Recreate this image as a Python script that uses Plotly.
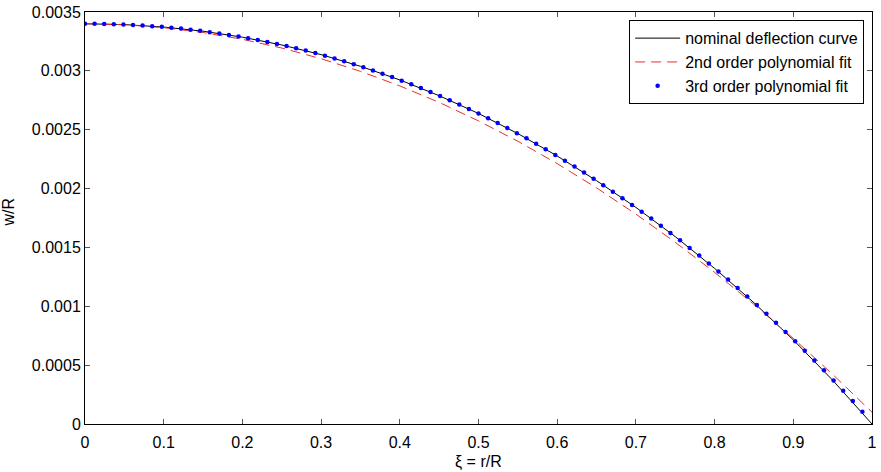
import plotly.graph_objects as go

# nominal deflection curve
xi_nom = [0.00, 0.05, 0.10, 0.15, 0.20, 0.25, 0.30, 0.35, 0.40, 0.45, 0.50,
          0.55, 0.60, 0.65, 0.70, 0.75, 0.80, 0.85, 0.90, 0.95, 1.00]
w_nom = [0.003400, 0.003393, 0.003372, 0.003337, 0.003286, 0.003220, 0.003138,
         0.003039, 0.002923, 0.002789, 0.002638, 0.002467, 0.002277, 0.002067,
         0.001840, 0.001592, 0.001322, 0.001030, 0.000715, 0.000372, 0.000000]

# 2nd order polynomial fit
xi_fit2 = xi_nom
w_fit2 = [0.003400, 0.003392, 0.003367, 0.003326, 0.003268, 0.003194, 0.003103,
          0.002996, 0.002872, 0.002732, 0.002575, 0.002402, 0.002212, 0.002006,
          0.001783, 0.001544, 0.001288, 0.001016, 0.000727, 0.000422, 0.000100]

# 3rd order polynomial fit (dots)
xi_fit3 = [0.0000, 0.0122, 0.0244, 0.0366, 0.0488, 0.0610, 0.0732, 0.0854, 0.0976, 0.1098,
           0.1220, 0.1341, 0.1463, 0.1585, 0.1707, 0.1829, 0.1951, 0.2073, 0.2195, 0.2317,
           0.2439, 0.2561, 0.2683, 0.2805, 0.2927, 0.3049, 0.3171, 0.3293, 0.3415, 0.3537,
           0.3659, 0.3780, 0.3902, 0.4024, 0.4146, 0.4268, 0.4390, 0.4512, 0.4634, 0.4756,
           0.4878, 0.5000, 0.5122, 0.5244, 0.5366, 0.5488, 0.5610, 0.5732, 0.5854, 0.5976,
           0.6098, 0.6220, 0.6341, 0.6463, 0.6585, 0.6707, 0.6829, 0.6951, 0.7073, 0.7195,
           0.7317, 0.7439, 0.7561, 0.7683, 0.7805, 0.7927, 0.8049, 0.8171, 0.8293, 0.8415,
           0.8537, 0.8659, 0.8780, 0.8902, 0.9024, 0.9146, 0.9268, 0.9390, 0.9512, 0.9634,
           0.9756, 0.9878]
w_fit3 = [0.003400, 0.003400, 0.003398, 0.003396, 0.003394, 0.003390, 0.003385, 0.003380, 0.003374, 0.003367,
          0.003359, 0.003350, 0.003340, 0.003329, 0.003318, 0.003305, 0.003292, 0.003278, 0.003262, 0.003246,
          0.003229, 0.003211, 0.003192, 0.003172, 0.003151, 0.003129, 0.003106, 0.003082, 0.003057, 0.003031,
          0.003004, 0.002976, 0.002947, 0.002917, 0.002886, 0.002854, 0.002820, 0.002786, 0.002750, 0.002714,
          0.002676, 0.002638, 0.002598, 0.002557, 0.002514, 0.002471, 0.002427, 0.002381, 0.002334, 0.002286,
          0.002237, 0.002187, 0.002136, 0.002083, 0.002029, 0.001974, 0.001918, 0.001860, 0.001803, 0.001745,
          0.001684, 0.001623, 0.001560, 0.001496, 0.001431, 0.001364, 0.001296, 0.001227, 0.001156, 0.001084,
          0.001011, 0.000936, 0.000860, 0.000782, 0.000703, 0.000622, 0.000540, 0.000456, 0.000370, 0.000283,
          0.000195, 0.000105]

x_ticks = [0, 0.1, 0.2, 0.3, 0.4, 0.5, 0.6, 0.7, 0.8, 0.9, 1]
x_ticktext = ["0", "0.1", "0.2", "0.3", "0.4", "0.5", "0.6", "0.7", "0.8", "0.9", "1"]
y_ticks = [0, 0.0005, 0.001, 0.0015, 0.002, 0.0025, 0.003, 0.0035]
y_ticktext = ["0", "0.0005", "0.001", "0.0015", "0.002", "0.0025", "0.003", "0.0035"]
x_title = "ξ = r/R"
y_title = "w/R"

fig = go.Figure()
fig.add_trace(go.Scatter(x=xi_nom, y=w_nom, mode="lines", name="nominal deflection curve",
                         line=dict(color="black", width=1)))
fig.add_trace(go.Scatter(x=xi_fit2, y=w_fit2, mode="lines", name="2nd order polynomial fit",
                         line=dict(color="#e8302a", width=1, dash="10px,6px")))
fig.add_trace(go.Scatter(x=xi_fit3, y=w_fit3, mode="markers", name="3rd order polynomial fit",
                         marker=dict(color="#0000ff", size=4.5)))

font = "Liberation Sans, Arial, sans-serif"
fig.update_layout(
    width=881, height=472,
    margin=dict(l=85, r=4, t=12, b=48),
    paper_bgcolor="white", plot_bgcolor="white",
    font=dict(family=font, size=16, color="black"),
    showlegend=True,
    legend=dict(x=0.99, y=0.98, xanchor="right", yanchor="top",
                bgcolor="white", bordercolor="black", borderwidth=1,
                font=dict(size=16), tracegroupgap=0, itemwidth=45),
    xaxis=dict(range=[0, 1], tickvals=x_ticks, ticktext=x_ticktext,
               ticks="inside", ticklen=5, tickcolor="#555555",
               ticklabeloverflow="allow", ticklabelstandoff=4,
               showline=True, linecolor="black", linewidth=1, mirror="ticks",
               showgrid=False, zeroline=False),
    yaxis=dict(range=[0, 0.0035], tickvals=y_ticks, ticktext=y_ticktext,
               ticks="inside", ticklen=5, tickcolor="#555555",
               ticklabeloverflow="allow",
               showline=True, linecolor="black", linewidth=1, mirror="ticks",
               showgrid=False, zeroline=False),
    annotations=[
        dict(text=x_title, xref="paper", yref="paper", x=0.5, y=-0.092,
             xanchor="center", yanchor="middle", showarrow=False, font=dict(size=16)),
        dict(text=y_title, xref="paper", yref="paper", x=-0.097, y=0.515,
             xanchor="center", yanchor="middle", textangle=-90, showarrow=False,
             font=dict(size=16)),
    ],
)

fig.write_html("out.html")
